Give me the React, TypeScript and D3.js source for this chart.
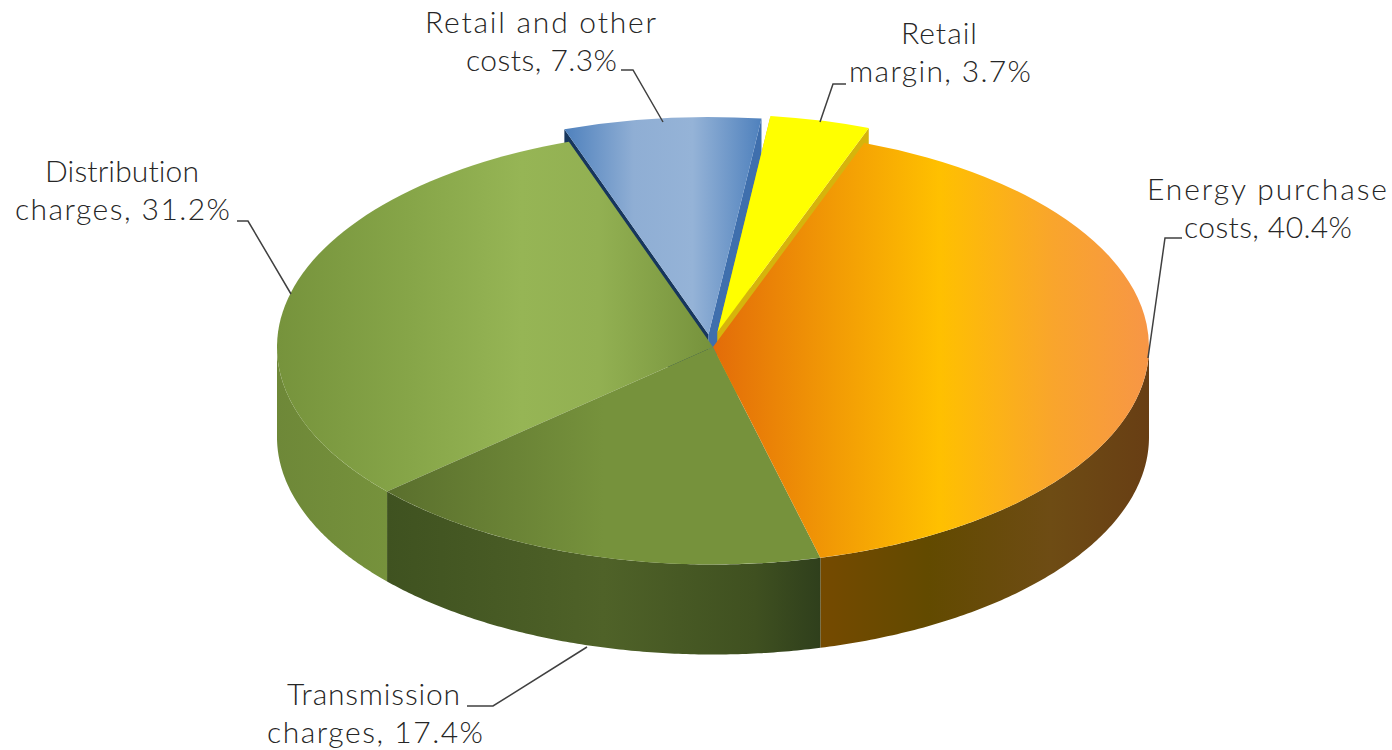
import React from "react";
import * as d3 from "d3";

// Retail electricity price components, clockwise from the energy slice.
const categories = [
  "Energy purchase costs",
  "Transmission charges",
  "Distribution charges",
  "Retail and other costs",
  "Retail margin",
];
const shares = [40.4, 17.4, 31.2, 7.3, 3.7];
const labelLines = [
  ["Energy purchase", "costs, 40.4%"],
  ["Transmission", "charges, 17.4%"],
  ["Distribution", "charges, 31.2%"],
  ["Retail and other", "costs, 7.3%"],
  ["Retail", "margin, 3.7%"],
];

const W = 1392;
const H = 750;
const CX = 713;
const CY = 347;
const RX = 436;
const RY = 217.5;
const DEPTH = 90;
const START = (20.3 * Math.PI) / 180;

// [offset, colour] stops for each slice's horizontal shading.
const topStops: [number, string][][] = [
  [[0, "#E36C09"], [0.28, "#F29B05"], [0.52, "#FFC000"], [0.78, "#F9A52C"], [1, "#F79646"]],
  [[0, "#5A6F2D"], [0.5, "#76923C"], [1, "#76923C"]],
  [[0, "#76933C"], [0.3, "#86A548"], [0.56, "#96B555"], [0.74, "#92B052"], [1, "#76923C"]],
  [[0, "#4F81BD"], [0.35, "#8FAED4"], [0.65, "#95B3D7"], [1, "#4F81BD"]],
  [[0, "#FFFF00"], [1, "#FFFF00"]],
];
const wallStops: [number, string][][] = [
  [[0, "#754A00"], [0.33, "#624A00"], [0.7, "#6E4C14"], [1, "#683E14"]],
  [[0, "#3F5220"], [0.5, "#4F6228"], [0.85, "#3F5020"], [1, "#2F3F1C"]],
  [[0, "#6E8838"], [1, "#76923C"]],
];
// Separation of the two pulled-out slices; the other slices stay at the centre.
const explode: [number, number][] = [[0, 0], [0, 0], [0, 0], [-4.5, -12.5], [4.5, -15]];
const edgeWalls = [null, null, null, { left: "#17365D", right: "#3F6FAD" }, { left: "#C9B80A", right: "#D6B40C" }];

// Label placement: per-line centre, baseline and width, plus the leader polyline.
const labelLayout = [
  { x: [1267, 1268], y: [200, 238], w: [240, 168], leader: [[1182, 238], [1165, 238], [1148, 358]] },
  { x: [373.5, 375], y: [705, 743], w: [173, 216], leader: [[467, 706], [493, 706], [587, 647]] },
  { x: [122, 122.5], y: [182, 220], w: [154, 215], leader: [[237, 221], [248, 221], [291, 294]] },
  { x: [540.5, 541.5], y: [33, 71], w: [231, 151], leader: [[621, 70], [633, 70], [663, 122]] },
  { x: [939, 940], y: [44, 82], w: [76, 182], leader: [[846, 84], [833, 84], [820, 122]] },
];

const pie = d3
  .pie<number>()
  .sort(null)
  .startAngle(START)
  .endAngle(START + 2 * Math.PI);
const slices = pie(shares);

const arcTop = d3.arc<d3.PieArcDatum<number>>().innerRadius(0).outerRadius(RX);

const px = (t: number, dx = 0) => CX + dx + RX * Math.sin(t);
const py = (t: number, dy = 0) => CY + dy - RY * Math.cos(t);
const line = d3.line<[number, number]>();

// Side band of the rim between two angles, hanging below the top ellipse.
function rimPath(a0: number, a1: number) {
  const ts = d3.range(0, 121).map((i) => a0 + ((a1 - a0) * i) / 120);
  const upper = ts.map((t) => [px(t), py(t)] as [number, number]);
  const lower = ts
    .slice()
    .reverse()
    .map((t) => [px(t), py(t) + DEPTH] as [number, number]);
  return line([...upper, ...lower]) + "Z";
}

// Cut face of a pulled-out slice along one radial edge.
function edgePath(t: number, dx: number, dy: number) {
  const tip: [number, number] = [CX + dx, CY + dy];
  const rim: [number, number] = [px(t, dx), py(t, dy)];
  return line([tip, rim, [rim[0], rim[1] + DEPTH], [tip[0], tip[1] + DEPTH]]) + "Z";
}

const FRONT_L = Math.PI / 2;
const FRONT_R = (3 * Math.PI) / 2;

const Grad = ({ id, stops }: { id: string; stops: [number, string][] }) => (
  <linearGradient id={id} x1="0" x2="1" y1="0" y2="0">
    {stops.map(([o, c], i) => (
      <stop key={i} offset={o} stopColor={c} />
    ))}
  </linearGradient>
);

function TopFace({ i }: { i: number }) {
  const [dx, dy] = explode[i];
  return (
    <path
      d={arcTop(slices[i]) as string}
      fill={`url(#top-${i})`}
      transform={`translate(${CX + dx},${CY + dy}) scale(1,${RY / RX})`}
    />
  );
}

function EdgeFaces({ i }: { i: number }) {
  const walls = edgeWalls[i];
  if (!walls) return null;
  const [dx, dy] = explode[i];
  return (
    <g>
      <path d={edgePath(slices[i].startAngle, dx, dy)} fill={walls.left} />
      <path d={edgePath(slices[i].endAngle, dx, dy)} fill={walls.right} />
    </g>
  );
}

export default function App() {
  return (
    <svg
      width={W}
      height={H}
      viewBox={`0 0 ${W} ${H}`}
      style={{ position: "absolute", left: 0, top: 0, background: "#fff" }}
    >
      <defs>
        {topStops.map((s, i) => (
          <Grad key={i} id={`top-${i}`} stops={s} />
        ))}
        {wallStops.map((s, i) => (
          <Grad key={i} id={`wall-${i}`} stops={s} />
        ))}
      </defs>

      {/* Pulled-out slices sit behind the main body of the pie */}
      <EdgeFaces i={3} />
      <TopFace i={3} />
      <EdgeFaces i={4} />
      <TopFace i={4} />

      {/* Front rim of the three large slices */}
      {[0, 1, 2].map((i) => {
        const a0 = Math.max(slices[i].startAngle, FRONT_L);
        const a1 = Math.min(slices[i].endAngle, FRONT_R);
        return <path key={i} d={rimPath(a0, a1)} fill={`url(#wall-${i})`} />;
      })}
      {[2, 1, 0].map((i) => (
        <TopFace key={i} i={i} />
      ))}

      {/* Leader lines and labels */}
      {labelLayout.map((l, i) => (
        <g key={categories[i]}>
          <polyline
            points={l.leader.map((p) => p.join(",")).join(" ")}
            fill="none"
            stroke="#404040"
            strokeWidth={1.5}
          />
          {labelLines[i].map((t, j) => (
            <text
              key={j}
              x={l.x[j]}
              y={l.y[j]}
              textAnchor="middle"
              textLength={l.w[j]}
              lengthAdjust="spacing"
              fontFamily="Lato, 'Open Sans', sans-serif"
              fontWeight={300}
              fontSize={30}
              fill="#262626"
              style={{ fontVariantLigatures: "none" }}
            >
              {t}
            </text>
          ))}
        </g>
      ))}
    </svg>
  );
}
